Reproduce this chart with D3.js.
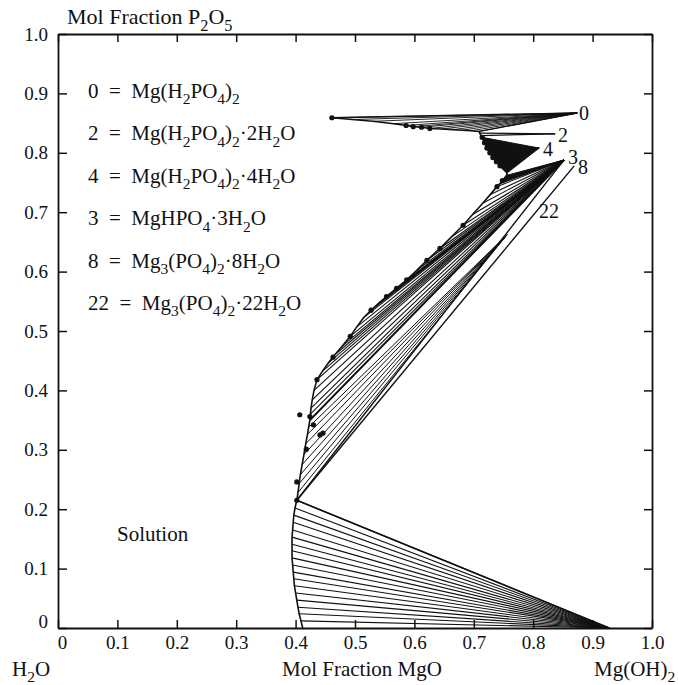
<!DOCTYPE html>
<html>
<head>
<meta charset="utf-8">
<script src="https://cdn.jsdelivr.net/npm/d3@7"></script>
<style>
  body { margin: 0; background: #fff; }
  svg text { font-family: "Liberation Serif", "Times New Roman", serif; fill: #111; }
</style>
</head>
<body>
<svg id="chart" width="678" height="685"></svg>
<script>
// ---- axis ticks ----
const xTicks = [0, 0.1, 0.2, 0.3, 0.4, 0.5, 0.6, 0.7, 0.8, 0.9, 1.0];
const xTickLabels = ["0", "0.1", "0.2", "0.3", "0.4", "0.5", "0.6", "0.7", "0.8", "0.9", "1.0"];
const yTicks = [0, 0.1, 0.2, 0.3, 0.4, 0.5, 0.6, 0.7, 0.8, 0.9, 1.0];
const yTickLabels = ["0", "0.1", "0.2", "0.3", "0.4", "0.5", "0.6", "0.7", "0.8", "0.9", "1.0"];

// ---- solid phases [mol fraction MgO, mol fraction P2O5] ----
const solidMgOH2 = [0.928, 0.0];
const solid22 = [0.756, 0.662];
const solid8 = [0.869, 0.778];
const solid3 = [0.852, 0.788];
const solid4 = [0.810, 0.808];
const solid2 = [0.837, 0.832];
const solid0 = [0.874, 0.867];

// ---- saturated solution compositions, tie-lined to each solid ----
const solnMgOH2 = [
  [0.402, 0.215], [0.399, 0.202], [0.397, 0.190], [0.396, 0.178], [0.395, 0.165],
  [0.394, 0.153], [0.394, 0.141], [0.394, 0.130], [0.394, 0.118], [0.395, 0.106],
  [0.396, 0.094], [0.397, 0.083], [0.398, 0.071], [0.400, 0.059], [0.402, 0.047],
  [0.404, 0.035], [0.406, 0.024], [0.409, 0.012]
];
const solnEnd = [0.412, 0.0];
const soln22 = [
  [0.404, 0.228], [0.406, 0.243], [0.408, 0.258], [0.411, 0.275], [0.414, 0.292],
  [0.417, 0.310], [0.420, 0.326], [0.422, 0.338]
];
const soln3 = [
  [0.424, 0.350], [0.425, 0.360], [0.426, 0.370], [0.428, 0.384], [0.431, 0.400],
  [0.436, 0.418], [0.445, 0.432], [0.455, 0.446], [0.466, 0.460], [0.478, 0.474],
  [0.492, 0.491], [0.503, 0.507], [0.514, 0.522], [0.527, 0.535], [0.540, 0.547],
  [0.553, 0.558], [0.570, 0.572], [0.587, 0.586], [0.604, 0.602], [0.621, 0.619],
  [0.643, 0.639], [0.662, 0.658], [0.682, 0.678], [0.698, 0.696], [0.715, 0.715],
  [0.728, 0.730], [0.739, 0.743], [0.744, 0.748], [0.748, 0.753], [0.752, 0.758],
  [0.755, 0.762]
];
const soln4 = [
  [0.756, 0.766], [0.750, 0.772], [0.744, 0.778], [0.738, 0.785], [0.732, 0.792],
  [0.727, 0.800], [0.722, 0.808], [0.718, 0.817], [0.714, 0.826]
];
const soln2 = [[0.712, 0.829], [0.710, 0.833]];
const soln0 = [
  [0.709, 0.836], [0.695, 0.837], [0.680, 0.838], [0.665, 0.839], [0.645, 0.840],
  [0.626, 0.841], [0.612, 0.843], [0.598, 0.844], [0.586, 0.846], [0.565, 0.849],
  [0.530, 0.853], [0.495, 0.856], [0.461, 0.859]
];

// measured points marked on the solubility curve
const measured = [
  [0.461, 0.859], [0.586, 0.846], [0.598, 0.844], [0.612, 0.843], [0.626, 0.841],
  [0.714, 0.826], [0.718, 0.817], [0.722, 0.808], [0.727, 0.800], [0.732, 0.792],
  [0.738, 0.785], [0.744, 0.778], [0.748, 0.753], [0.739, 0.743],
  [0.682, 0.678], [0.643, 0.639], [0.621, 0.619], [0.587, 0.586], [0.570, 0.572],
  [0.553, 0.558], [0.527, 0.535], [0.492, 0.491], [0.463, 0.456], [0.436, 0.418],
  [0.407, 0.359], [0.424, 0.356], [0.430, 0.342], [0.446, 0.328], [0.441, 0.325],
  [0.418, 0.301], [0.402, 0.246], [0.402, 0.215]
];

// legend entries ("_" marks a subscript character)
const legendRows = [
  "0\u2002=\u2002Mg(H_2PO_4)_2",
  "2\u2002=\u2002Mg(H_2PO_4)_2·2H_2O",
  "4\u2002=\u2002Mg(H_2PO_4)_2·4H_2O",
  "3\u2002=\u2002MgHPO_4·3H_2O",
  "8\u2002=\u2002Mg_3(PO_4)_2·8H_2O",
  "22\u2002=\u2002Mg_3(PO_4)_2·22H_2O"
];
const phaseTags = ["0", "2", "4", "3", "8", "22"];

// ---- layout ----
const svg = d3.select("#chart");
const x = d3.scaleLinear().domain([0, 1]).range([58, 652]);
const y = d3.scaleLinear().domain([0, 1]).range([628, 34]);

function richText(sel, str, size) {
  const parts = str.match(/_.|[^_]+/g);
  let low = false;
  const sub = size * 0.3;
  parts.forEach(p => {
    const t = sel.append("tspan");
    if (p[0] === "_") {
      t.text(p[1]).attr("font-size", size * 0.74);
      if (!low) t.attr("dy", sub);
      low = true;
    } else {
      t.text(p);
      if (low) t.attr("dy", -sub);
      low = false;
    }
  });
  return sel;
}

// ---- tie lines ----
const ties = svg.append("g").attr("stroke", "#111").attr("fill", "none");
function fan(points, solid, w) {
  ties.selectAll(null).data(points).enter().append("line")
    .attr("x1", d => x(d[0])).attr("y1", d => y(d[1]))
    .attr("x2", x(solid[0])).attr("y2", y(solid[1]))
    .attr("stroke-width", w);
}
fan(solnMgOH2, solidMgOH2, 1.1);
fan(soln22, solid22, 1.0);
fan(soln3, solid3, 1.1);
fan(soln4, solid4, 1.0);
fan(soln2, solid2, 1.2);
fan(soln0, solid0, 0.9);

// dense convergence areas
const area = d3.line().x(d => x(d[0])).y(d => y(d[1]));
svg.append("path").attr("d", area(soln4.concat([solid4])) + "Z").attr("fill", "#111");
svg.append("path").attr("d", area(soln3.slice(-4).concat([solid3])) + "Z").attr("fill", "#111");

// boundary ties from the invariant solution
const inv = solnMgOH2[0];
[[inv, solid3, 1.4], [inv, solid8, 1.4], [soln3[0], solid3, 2.0],
 [solnMgOH2[0], solidMgOH2, 1.6], [soln0[soln0.length - 1], solid0, 1.4],
 [soln0[0], solid0, 1.4]].forEach(([a, b, w]) => {
  ties.append("line").attr("x1", x(a[0])).attr("y1", y(a[1]))
    .attr("x2", x(b[0])).attr("y2", y(b[1])).attr("stroke-width", w);
});

// solubility curve
const curve = [solnEnd].concat(solnMgOH2.slice().reverse(), soln22, soln3, soln4, soln2, soln0);
svg.append("path").attr("d", d3.line().x(d => x(d[0])).y(d => y(d[1]))(curve))
  .attr("fill", "none").attr("stroke", "#111").attr("stroke-width", 1.6);

// measured points
svg.append("g").selectAll("circle").data(measured).enter().append("circle")
  .attr("cx", d => x(d[0])).attr("cy", d => y(d[1])).attr("r", 2.6).attr("fill", "#111");

// ---- axes (ticks pointing inward on all sides) ----
const fmtX = d => xTickLabels[xTicks.indexOf(d)];
const fmtY = d => yTickLabels[yTicks.indexOf(d)];
const gB = svg.append("g").attr("transform", `translate(0,${y(0)})`)
  .call(d3.axisBottom(x).tickValues(xTicks).tickFormat(fmtX).tickSize(-8).tickSizeOuter(0).tickPadding(8));
const gT = svg.append("g").attr("transform", `translate(0,${y(1)})`)
  .call(d3.axisTop(x).tickValues(xTicks).tickFormat("").tickSize(-8).tickSizeOuter(0));
const gL = svg.append("g").attr("transform", `translate(${x(0)},0)`)
  .call(d3.axisLeft(y).tickValues(yTicks).tickFormat(fmtY).tickSize(-9).tickSizeOuter(0).tickPadding(10));
const gR = svg.append("g").attr("transform", `translate(${x(1)},0)`)
  .call(d3.axisRight(y).tickValues(yTicks).tickFormat("").tickSize(-8).tickSizeOuter(0));
[gB, gT, gL, gR].forEach(g => {
  g.select(".domain").attr("stroke", "#111").attr("stroke-width", 1.8);
  g.selectAll(".tick line").attr("stroke", "#111").attr("stroke-width", 1.5);
  g.selectAll("text").attr("font-size", 19).attr("font-family", "Liberation Serif").attr("fill", "#111");
});
gB.selectAll(".tick").filter(d => d === 0).select("text").attr("dx", 4);
gL.selectAll(".tick").filter(d => d === 0).select("text").attr("dy", "-0.05em");

// ---- text ----
richText(svg.append("text").attr("x", 67).attr("y", 24).attr("font-size", 22), "Mol Fraction P_2O_5", 22);
richText(svg.append("text").attr("x", 12).attr("y", 676).attr("font-size", 21), "H_2O", 21);
svg.append("text").attr("x", 282).attr("y", 676).attr("font-size", 21).text("Mol Fraction MgO");
richText(svg.append("text").attr("x", 594).attr("y", 676).attr("font-size", 21), "Mg(OH)_2", 21);
svg.append("text").attr("x", 117).attr("y", 541).attr("font-size", 21).text("Solution");

legendRows.forEach((r, i) => {
  richText(svg.append("text").attr("x", 88).attr("y", 98 + i * 42.4).attr("font-size", 21), r, 21);
});

// phase tags at the solid compositions
const tagPos = [[579, 120], [558, 142], [543, 156], [568, 164], [578, 174], [539, 218]];
phaseTags.forEach((t, i) => {
  svg.append("text").attr("x", tagPos[i][0]).attr("y", tagPos[i][1]).attr("font-size", 20).text(t);
});
</script>
</body>
</html>
